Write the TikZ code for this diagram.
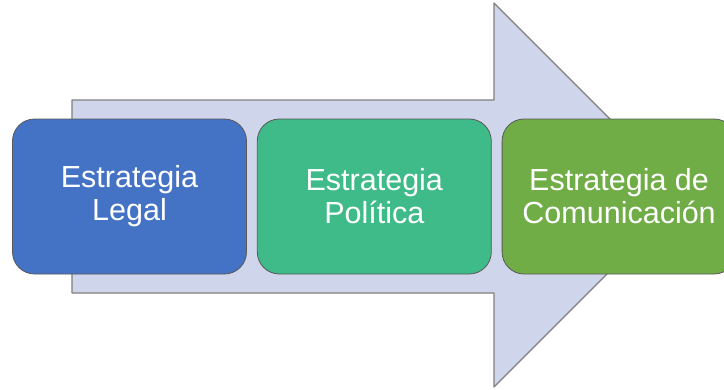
\documentclass[tikz,border=0pt]{standalone}
\usepackage{fontspec}
\setmainfont{Liberation Sans}
\usetikzlibrary{positioning}
\definecolor{arrowfill}{HTML}{CFD5EA}
\definecolor{arrowline}{HTML}{7F7F7F}
\definecolor{legalblue}{HTML}{4472C4}
\definecolor{politicagreen}{HTML}{3FBA89}
\definecolor{comgreen}{HTML}{70AD47}
\tikzset{
  stagebox/.style={draw=black!65, line width=0.8pt, rounded corners=22pt,
    minimum width=234pt, minimum height=155pt, inner sep=0pt,
    align=center, text=white, font=\fontsize{30.5}{33}\selectfont}
}
\begin{document}
\begin{tikzpicture}[x=1pt, y=-1pt, line join=round]
    \useasboundingbox (0,0) rectangle (724,389);
    \clip (0,0) rectangle (724,389);

    % Define corners of the big arrow
    \coordinate (T1) at (72,100);
    \coordinate (T2) at (494,100);
    \coordinate (H1) at (494,3);
    \coordinate (Tip) at (686,195);
    \coordinate (H2) at (494,387);
    \coordinate (B2) at (494,293);
    \coordinate (B1) at (72,293);

    % Draw big arrow
    \filldraw[fill=arrowfill, draw=arrowline, line width=1.2pt]
      (T1) -- (T2) -- (H1) -- (Tip) -- (H2) -- (B2) -- (B1) -- cycle;

    % Draw the three stages
    \node[stagebox, fill=legalblue] (legal) at (129.5,196.5) {Estrategia\\Legal};
    \node[stagebox, fill=politicagreen, right=10pt of legal] (politica) {Estrategia\\Política};
    \node[stagebox, fill=comgreen, right=10pt of politica] (comunicacion) {Estrategia de\\Comunicación};
\end{tikzpicture}
\end{document}
